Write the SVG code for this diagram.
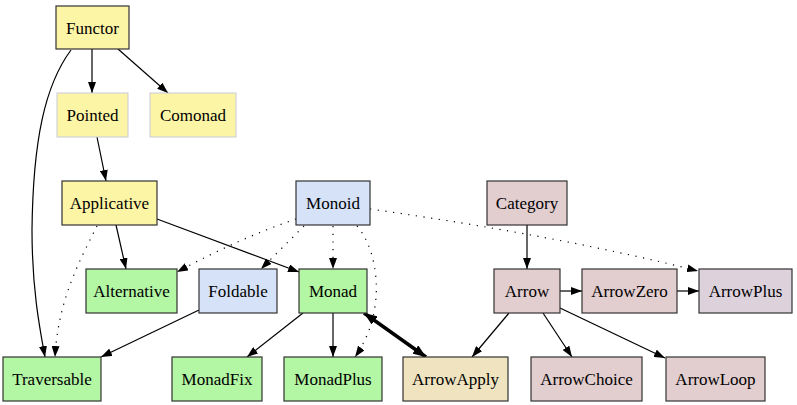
<svg xmlns="http://www.w3.org/2000/svg" width="797" height="405" viewBox="0 0 797 405">
<style>
rect{stroke:#333;stroke-width:1.2}
.y{fill:#fdf5a6}
.g{fill:#b3f6a3}
.b{fill:#d6e2f8}
.p{fill:#e2cdcf}
.ya{fill:#efe4bf}
.pb{fill:#ddd2dc}
.lt{stroke:#c9c9dc;stroke-width:1}
text{font-family:"Liberation Serif","Times New Roman",serif;font-size:17px;fill:#000;text-anchor:middle;dominant-baseline:central}
.e path{fill:none;stroke:#000;stroke-width:1.2}
.e path.s{marker-end:url(#ah)}
.e path.d{stroke-dasharray:1.2 6.5;marker-end:url(#ah)}
.e path.bold{stroke-width:3.5;marker-end:url(#ab);marker-start:url(#ab)}
</style>
<defs>
<marker id="ah" markerUnits="userSpaceOnUse" markerWidth="11" markerHeight="8" refX="11" refY="4" orient="auto"><path d="M0,0 L11,4 L0,8 z" fill="#000"/></marker>
<marker id="ab" markerUnits="userSpaceOnUse" markerWidth="13" markerHeight="10" refX="13" refY="5" orient="auto-start-reverse"><path d="M0,0 L13,5 L0,10 z" fill="#000"/></marker>
</defs>
<g class="e" id="edges">
<path class="s" d="M92,49 L92,93"/>
<path class="s" d="M118,49 L168,93"/>
<path class="s" d="M71,50 C45,85 33,140 32,230 C32,290 40,330 45,357"/>
<path class="s" d="M97,137 L106,181"/>
<path class="s" d="M116,225 L126,269"/>
<path class="s" d="M157,219 L299,272"/>
<path class="d" d="M97,226 C80,260 58,300 55,357"/>
<path class="d" d="M296,219 Q240,238 177,272"/>
<path class="d" d="M304,226 L261,269"/>
<path class="d" d="M333,226 L333,269"/>
<path class="d" d="M357,226 C378,250 388,310 355,357"/>
<path class="d" d="M370,209 Q560,236 698,271"/>
<path class="s" d="M527,225 L527,269"/>
<path class="s" d="M560,291 L582,291"/>
<path class="s" d="M677,291 L699,291"/>
<path class="s" d="M509,313 L472,357"/>
<path class="s" d="M543,313 L572,357"/>
<path class="s" d="M560,308 L665,358"/>
<path class="bold" d="M364,313 L426,357"/>
<path class="s" d="M199,310 L101,357"/>
<path class="s" d="M303,313 L247,357"/>
<path class="s" d="M333,313 L333,357"/>
</g>
<g id="Functor"><rect class="y" x="56" y="6" width="73" height="43"/><text x="92.5" y="28">Functor</text></g>
<g id="Pointed"><rect class="y lt" x="57" y="93" width="71" height="44"/><text x="92.5" y="115">Pointed</text></g>
<g id="Comonad"><rect class="y lt" x="150" y="93" width="86" height="44"/><text x="193" y="115">Comonad</text></g>
<g id="Applicative"><rect class="y" x="62" y="181" width="95" height="44"/><text x="109.5" y="203">Applicative</text></g>
<g id="Monoid"><rect class="b" x="296" y="181" width="74" height="44"/><text x="333" y="203">Monoid</text></g>
<g id="Category"><rect class="p" x="487" y="181" width="80" height="44"/><text x="527" y="203">Category</text></g>
<g id="Alternative"><rect class="g" x="86" y="269" width="91" height="44"/><text x="131.5" y="291">Alternative</text></g>
<g id="Foldable"><rect class="b" x="199" y="269" width="78" height="44"/><text x="238" y="291">Foldable</text></g>
<g id="Monad"><rect class="g" x="299" y="269" width="68" height="44"/><text x="333" y="291">Monad</text></g>
<g id="Arrow"><rect class="p" x="494" y="269" width="66" height="44"/><text x="527" y="291">Arrow</text></g>
<g id="ArrowZero"><rect class="p" x="582" y="269" width="95" height="44"/><text x="629.5" y="291">ArrowZero</text></g>
<g id="ArrowPlus"><rect class="pb" x="699" y="269" width="93" height="44"/><text x="745.5" y="291">ArrowPlus</text></g>
<g id="Traversable"><rect class="g" x="3" y="357" width="98" height="44"/><text x="52" y="379">Traversable</text></g>
<g id="MonadFix"><rect class="g" x="172" y="357" width="90" height="44"/><text x="217" y="379">MonadFix</text></g>
<g id="MonadPlus"><rect class="g" x="284" y="357" width="98" height="44"/><text x="333" y="379">MonadPlus</text></g>
<g id="ArrowApply"><rect class="ya" x="403" y="357" width="105" height="44"/><text x="455.5" y="379">ArrowApply</text></g>
<g id="ArrowChoice"><rect class="p" x="531" y="357" width="111" height="44"/><text x="586.5" y="379">ArrowChoice</text></g>
<g id="ArrowLoop"><rect class="p" x="666" y="357" width="99" height="44"/><text x="715.5" y="379">ArrowLoop</text></g>
</svg>
